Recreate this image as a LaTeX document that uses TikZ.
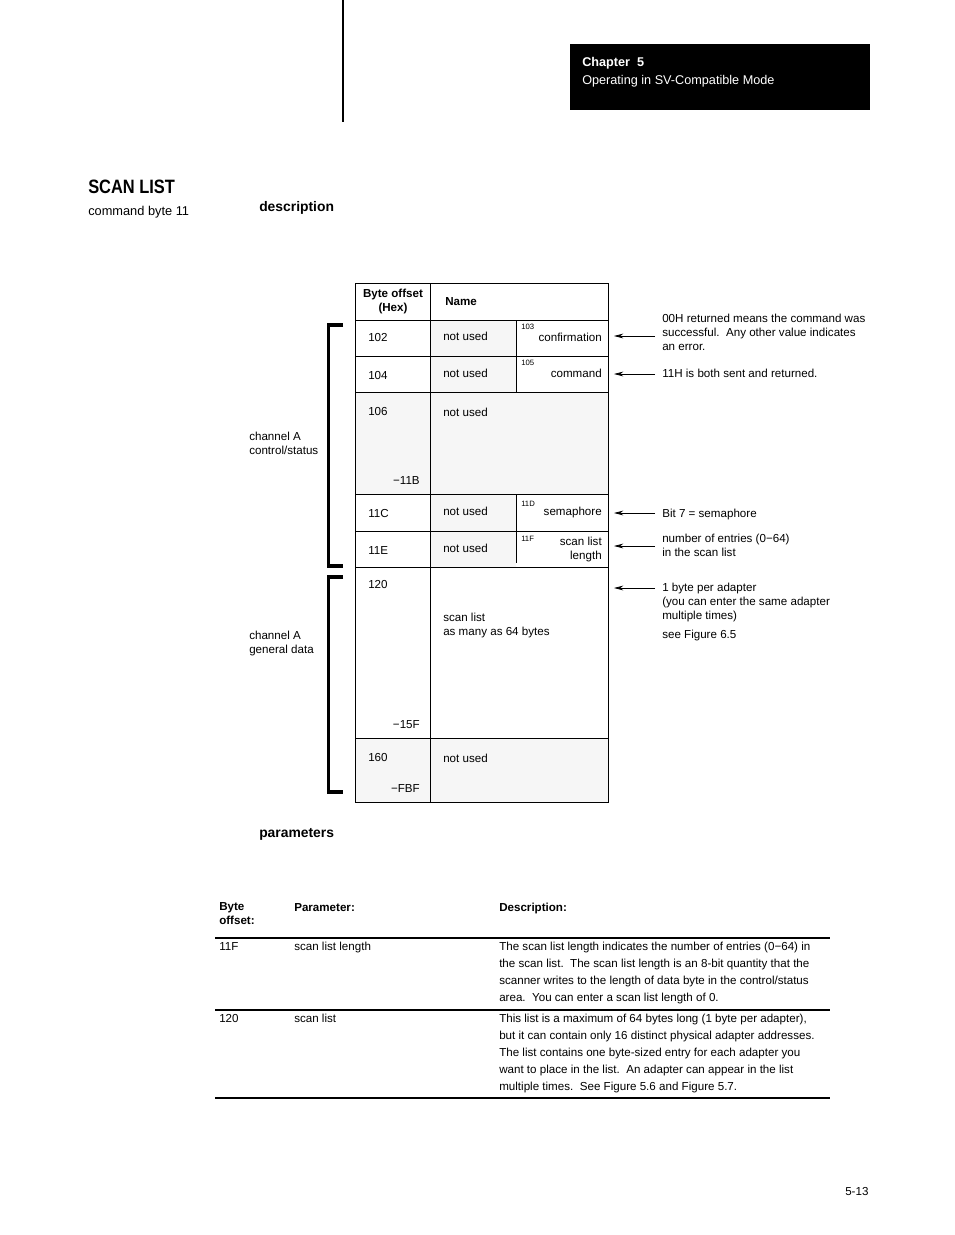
\documentclass[tikz,border=0pt]{standalone}
\usepackage{fontspec}
\setmainfont{Liberation Sans}
\newfontfamily\narrowsf{Liberation Sans}[FakeStretch=0.85]
\usetikzlibrary{arrows.meta}

\tikzset{
  lbl/.style={font=\fontsize{8.7}{10.5}\selectfont, align=left},
  hd/.style={font=\bfseries\fontsize{8.7}{9.8}\selectfont, align=left},
  sect/.style={font=\bfseries\fontsize{10.4}{12}\selectfont},
  sml/.style={font=\fontsize{5.8}{7}\selectfont},
  para/.style={font=\fontsize{8.7}{12.75}\selectfont, align=left},
  note/.style={lbl, inner xsep=5.25pt},
  ptr/.style={-{Stealth[length=7pt,width=3.6pt]}, line width=0.6pt},
  grid/.style={line width=0.65pt},
  cell/.style={fill=gray!7},
  brk/.style={line width=2.6pt},
  rule/.style={line width=1pt}
}

\begin{document}
\begin{tikzpicture}[x=0.75pt, y=-0.75pt,
  every node/.style={inner sep=0pt, anchor=base west}]
\useasboundingbox (0,0) rectangle (954,1235);

% page head
\draw[line width=1.5pt] (343,0) -- (343,122);
\fill (570,44) rectangle (870,110);
\node[text=white, font=\bfseries\fontsize{9.5}{11}\selectfont] (chap) at (582,66) {Chapter\ \ 5};
\node[text=white, font=\fontsize{9.5}{11}\selectfont] (mode) at (582,84) {Operating in SV-Compatible Mode};

\node[font=\narrowsf\bfseries\fontsize{14.5}{16}\selectfont] (title) at (88,193) {SCAN LIST};
\node[font=\fontsize{9.6}{11}\selectfont] (cmd) at (88,215) {command byte 11};
\node[sect] (desc) at (259,211) {description};

% memory map
\fill[cell] (430,320) rectangle (516,392);
\fill[cell] (355,392) rectangle (608,494);
\fill[cell] (430,494) rectangle (516,567);
\fill[cell] (355,738) rectangle (608,802);
\draw[grid] (355,283) rectangle (608,802);
\foreach \y in {320,356,392,494,531,567,738}
  \draw[grid] (355,\y) -- (608,\y);
\draw[grid] (430,283) -- (430,802);
\draw[grid] (516,320) -- (516,392) (516,494) -- (516,563);

\node[hd, align=center, anchor=base] (hoff) at (393,311) {Byte offset\\(Hex)};
\node[hd] (hname) at (445,305) {Name};

\node[lbl] (o102) at (368,341) {102};
\node[lbl] (o104) at (368,379) {104};
\node[lbl] (o106) at (368,415) {106};
\node[lbl, anchor=base east] (e11B) at (420,484) {−11B};
\node[lbl] (o11C) at (368,517) {11C};
\node[lbl] (o11E) at (368,554) {11E};
\node[lbl] (o120) at (368,588) {120};
\node[lbl, anchor=base east] (e15F) at (420,728) {−15F};
\node[lbl] (o160) at (368,761) {160};
\node[lbl, anchor=base east] (eFBF) at (420,792) {−FBF};

\node[lbl] (n102) at (443,340) {not used};
\node[lbl] (n104) at (443,377) {not used};
\node[lbl] (n106) at (443,416) {not used};
\node[lbl] (n11C) at (443,515) {not used};
\node[lbl] (n11E) at (443,552) {not used};
\node[lbl] (n120) at (443,635) {scan list\\as many as 64 bytes};
\node[lbl] (n160) at (443,762) {not used};

\node[sml] (s103) at (521,329) {103};
\node[sml] (s105) at (521,365) {105};
\node[sml] (s11D) at (521,506) {11D};
\node[sml] (s11F) at (521,541) {11F};
\node[lbl, anchor=base east] (conf) at (602,341) {confirmation};
\node[lbl, anchor=base east] (comm) at (602,377) {command};
\node[lbl, anchor=base east] (sema) at (602,515) {semaphore};
\node[lbl, anchor=base east, align=right] (slen) at (602,559) {scan list\\length};

% channel groups
\draw[brk] (343,325) -- (328.5,325) -- (328.5,566) -- (343,566);
\draw[brk] (343,577) -- (328.5,577) -- (328.5,792) -- (343,792);
\node[lbl] (gctl) at (249,454) {channel A\\control/status};
\node[lbl] (gdat) at (249,653) {channel A\\general data};

% notes
\node[note] (a1) at (655,350) {00H returned means the command was\\successful.\ \ Any other value indicates\\an error.};
\node[note] (a2) at (655,377) {11H is both sent and returned.};
\node[note] (a3) at (655,517) {Bit 7 = semaphore};
\node[note] (a4) at (655,556) {number of entries (0−64)\\in the scan list};
\node[note] (a5) at (655,619) {1 byte per adapter\\(you can enter the same adapter\\multiple times)};
\node[note] (a6) at (655,638) {see Figure 6.5};
\coordinate (c1) at (614,336);
\coordinate (c2) at (614,374);
\coordinate (c3) at (614,513);
\coordinate (c4) at (614,546);
\coordinate (c5) at (614,588);
\draw[ptr] (c1 -| a1.west) -- (c1);
\draw[ptr] (c2 -| a2.west) -- (c2);
\draw[ptr] (c3 -| a3.west) -- (c3);
\draw[ptr] (c4 -| a4.west) -- (c4);
\draw[ptr] (c5 -| a5.west) -- (c5);

% parameters
\node[sect] (parm) at (259,837) {parameters};
\node[hd] (pbyte) at (219,924) {Byte\\offset:};
\node[hd] (ppar) at (294,911) {Parameter:};
\node[hd] (pdsc) at (499,911) {Description:};
\foreach \y in {938,1010,1098}
  \draw[rule] (215,\y) -- (830,\y);
\node[lbl] (r1off) at (219,950) {11F};
\node[lbl] (r1par) at (294,950) {scan list length};
\node[para] (r1dsc) at (499,1001) {The scan list length indicates the number of entries (0−64) in\\the scan list.\ \ The scan list length is an 8-bit quantity that the\\scanner writes to the length of data byte in the control/status\\area.\ \ You can enter a scan list length of 0.};
\node[lbl] (r2off) at (219,1022) {120};
\node[lbl] (r2par) at (294,1022) {scan list};
\node[para] (r2dsc) at (499,1090) {This list is a maximum of 64 bytes long (1 byte per adapter),\\but it can contain only 16 distinct physical adapter addresses.\\The list contains one byte-sized entry for each adapter you\\want to place in the list.\ \ An adapter can appear in the list\\multiple times.\ \ See Figure 5.6 and Figure 5.7.};

\node[lbl] (pgno) at (845,1195) {5-13};
\end{tikzpicture}
\end{document}
